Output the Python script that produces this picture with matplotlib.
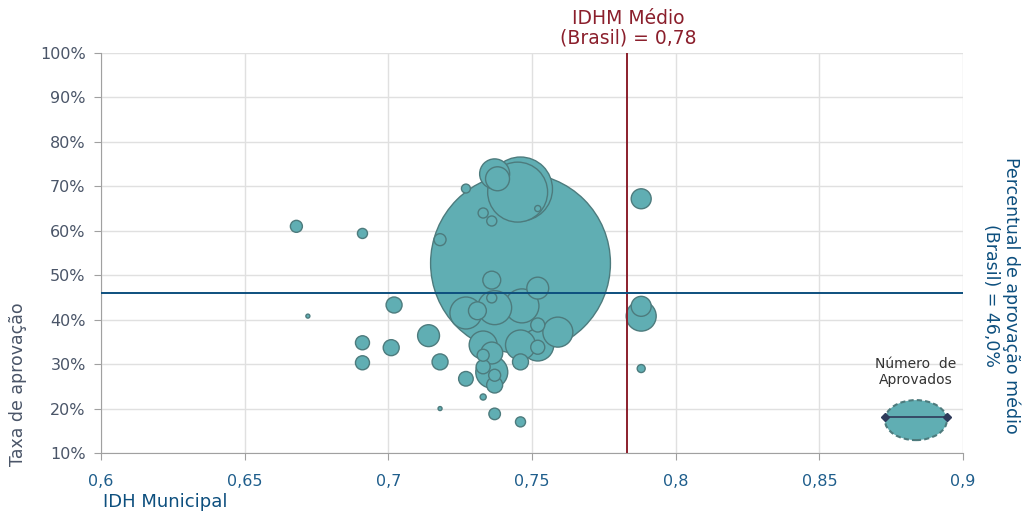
import matplotlib
matplotlib.use("Agg")
import matplotlib.pyplot as plt
from matplotlib.patches import Ellipse
from matplotlib.ticker import FuncFormatter, MultipleLocator

# IDH municipal, taxa de aprovacao (%) e numero de aprovados por municipio
idh = [0.668, 0.691, 0.718, 0.672, 0.702, 0.691, 0.691, 0.701, 0.714, 0.718,
       0.718, 0.727, 0.727, 0.727, 0.733, 0.736, 0.752, 0.737, 0.738, 0.746,
       0.745, 0.746, 0.736, 0.736, 0.752, 0.7465, 0.737, 0.731, 0.733, 0.737,
       0.746, 0.733, 0.733, 0.736, 0.736, 0.737, 0.737, 0.733, 0.746, 0.752,
       0.752, 0.759, 0.746, 0.752, 0.788, 0.788, 0.788, 0.788]
taxa = [61.0, 59.4, 58.0, 40.8, 43.3, 34.8, 30.3, 33.7, 36.4, 30.5,
        20.0, 26.7, 41.5, 69.5, 64.0, 62.2, 65.0, 72.8, 71.7, 69.4,
        68.7, 52.7, 48.9, 44.9, 47.1, 43.1, 42.7, 42.0, 22.6, 18.8,
        17.0, 34.3, 32.0, 32.5, 28.2, 27.5, 25.3, 29.4, 34.3, 34.3,
        33.8, 37.2, 30.5, 38.8, 67.2, 43.0, 40.8, 29.0]
aprovados = [54, 38, 54, 6, 96, 74, 74, 96, 180, 96,
             6, 80, 384, 30, 38, 38, 14, 338, 216, 1536,
             1350, 12150, 120, 38, 180, 434, 434, 120, 14, 50,
             38, 294, 54, 180, 384, 54, 96, 74, 338, 384,
             74, 338, 96, 74, 150, 150, 338, 24]

idhm_brasil = 0.783
aprov_brasil = 46.0

x_ticks = [0.6, 0.65, 0.7, 0.75, 0.8, 0.85, 0.9]
x_tick_labels = ["0,6", "0,65", "0,7", "0,75", "0,8", "0,85", "0,9"]

fill = "#60aeb3"
edge = "#4d7b7d"
red = "#8b1f2c"
blue = "#0d4f7e"
slate = "#4a5568"

plt.rcParams["font.family"] = ["DejaVu Sans"]

fig = plt.figure(figsize=(10.3, 5.13), dpi=100)
ax = fig.add_axes([101 / 1030, 60 / 513, 862 / 1030, 400 / 513])

# bigger bubbles first so the small ones stay visible on top
order = sorted(range(len(idh)), key=lambda i: -aprovados[i])
ax.scatter([idh[i] for i in order], [taxa[i] for i in order],
           s=[aprovados[i] * 1.38 for i in order],
           color=fill, edgecolor=edge, linewidth=1.0, zorder=3)

ax.axvline(idhm_brasil, color=red, linewidth=1.4, zorder=4)
ax.axhline(aprov_brasil, color=blue, linewidth=1.4, zorder=4)

ax.set_xlim(0.6, 0.9)
ax.set_ylim(10, 100)
ax.set_xticks(x_ticks)
ax.set_xticklabels(x_tick_labels)
ax.yaxis.set_major_locator(MultipleLocator(10))
ax.yaxis.set_major_formatter(FuncFormatter(lambda v, p: f"{v:.0f}%"))
ax.grid(color="#e0e0e0", linewidth=1.0, zorder=0)
ax.set_axisbelow(True)

for s in ["top", "right"]:
    ax.spines[s].set_visible(False)
for s in ["left", "bottom"]:
    ax.spines[s].set_color("#a0a0a0")
ax.tick_params(axis="both", length=5, color="#a0a0a0", labelsize=11.5)
ax.tick_params(axis="y", labelcolor=slate, pad=6)
ax.tick_params(axis="x", labelcolor="#1f5e8c", pad=10)

# legend for bubble size
ax.add_patch(Ellipse((0.8836, 17.4), 0.0216, 9.0, facecolor=fill,
                     edgecolor=edge, linestyle=(0, (2.5, 1.5)), linewidth=1.5,
                     zorder=5, clip_on=False))
ax.plot([0.8728, 0.8944], [18.1, 18.1], color="#2e3a5a", linewidth=1.2,
        marker="D", markersize=4.5, zorder=6, clip_on=False)
ax.text(0.8836, 28.3, "Número  de\nAprovados", ha="center", va="center",
        fontsize=10, color="#333333", linespacing=1.2, zorder=6)

fig.text(628 / 1030, 1 - 28 / 513, "IDHM Médio\n(Brasil) = 0,78", ha="center",
         va="center", fontsize=13.5, color=red, linespacing=1.0)
fig.text(1001 / 1030, 1 - 295 / 513, "Percentual de aprovação médio\n(Brasil) = 46,0%",
         ha="center", va="center", rotation=270, fontsize=12.5, color=blue,
         linespacing=1.15)
fig.text(103 / 1030, 2 / 513, "IDH Municipal", ha="left", va="bottom",
         fontsize=13, color=blue)
fig.text(18 / 1030, 1 - 466 / 513, "Taxa de aprovação", ha="center", va="bottom",
         rotation=90, fontsize=12.5, color=slate)

fig.savefig("out.png", dpi=100)
